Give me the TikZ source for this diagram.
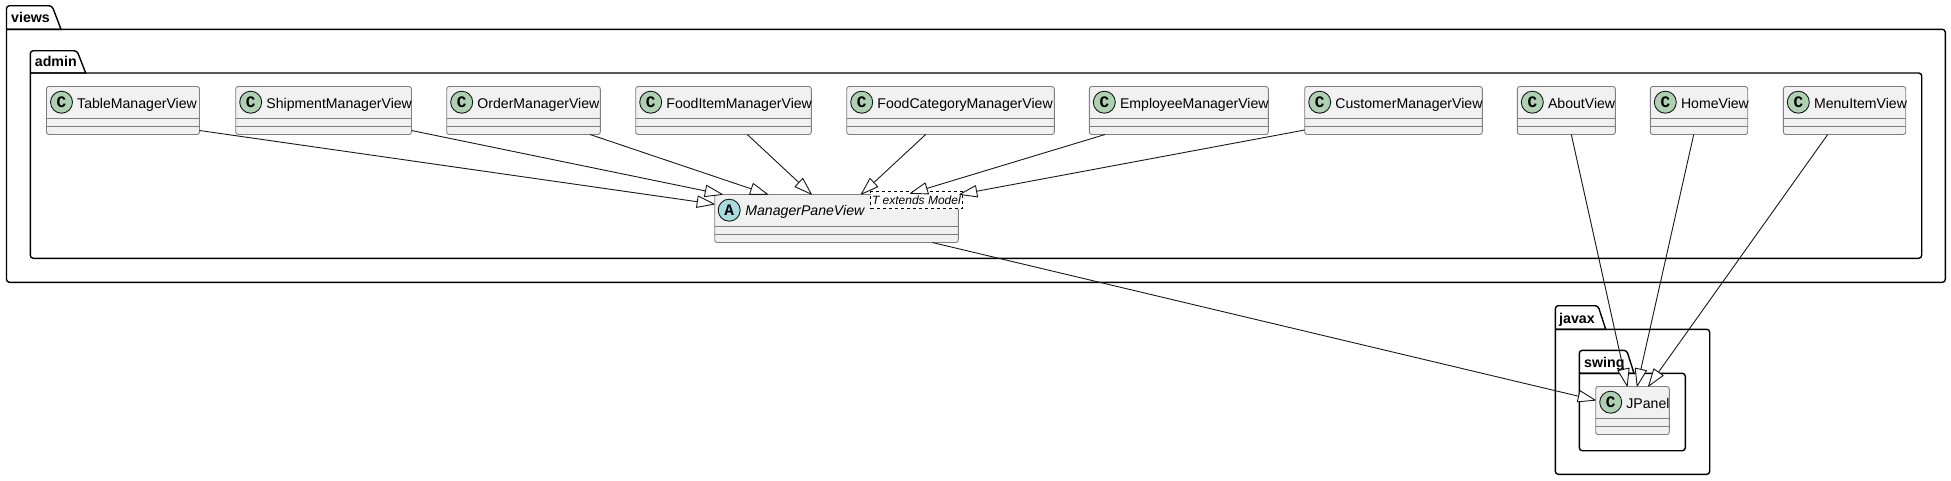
\documentclass[tikz,border=0pt]{standalone}
\usepackage{fontspec}
\setmainfont{Liberation Sans}
\setmonofont{Liberation Mono}
\usetikzlibrary{arrows.meta}

\definecolor{boxfill}{HTML}{F1F1F1}
\definecolor{boxline}{HTML}{7F7F7F}
\definecolor{classgreen}{HTML}{ADD1B2}
\definecolor{abstractblue}{HTML}{A9DCDF}
\definecolor{edgeline}{HTML}{181818}

\tikzset{
	classbox/.style={draw=boxline, fill=boxfill, line width=0.9pt, rounded corners=2.5pt, minimum height=48pt, inner sep=0pt, outer sep=0pt, anchor=north west},
	classicon/.style={circle, draw=edgeline, line width=0.9pt, minimum size=22pt, inner sep=0pt, font=\ttfamily\bfseries\fontsize{16}{16}\selectfont},
	classlabel/.style={anchor=base west, inner sep=0pt, font=\fontsize{14.1}{16}\selectfont},
	classline/.style={draw=boxline, line width=0.9pt},
	pkgline/.style={draw=black, line width=1.4pt},
	pkgtitle/.style={anchor=base west, inner sep=0pt, font=\bfseries\fontsize{14.2}{16}\selectfont},
	extends/.style={color=edgeline, line width=0.9pt, -{Triangle[fill=white, length=19pt, width=12.5pt, round=false]}}
}

% name, left, top, tab end, tab foot, tab line, right, bottom
\newcommand{\packagebox}[8]{
	\draw[pkgline] (#2,#5) [rounded corners=3pt] -- (#2,#3) -- (#4,#3) [sharp corners] -- (#6,#5) -- (#2,#5);
	\draw[pkgline] (#2,#5) [rounded corners=3pt] -- (#7,#5) -- (#7,#8) -- (#2,#8) -- (#2,#5);
}

% name, left, top, width, label
\newcommand{\classnode}[5]{
	\node[classbox, minimum width=#4pt] (#1) at (#2,#3) {};
	\draw[classline] ([yshift=-32pt]#1.north west) -- ([yshift=-32pt]#1.north east);
	\draw[classline] ([yshift=-40pt]#1.north west) -- ([yshift=-40pt]#1.north east);
	\node[classicon, fill=classgreen] (#1icon) at ([xshift=15pt,yshift=-15.7pt]#1.north west) {C};
	\node[classlabel] (#1label) at ([xshift=30.5pt,yshift=-21.8pt]#1.north west) {#5};
}

\begin{document}
\begin{tikzpicture}[x=1pt,y=-1pt]
	\useasboundingbox (0,0) rectangle (1951,480);

	% Packages
	\packagebox{views}{6.5}{5.7}{52}{29.3}{61}{1945.3}{282.3}
	\node[pkgtitle] (views) at (11,22.7) {views};
	\packagebox{admin}{30.3}{50.7}{77}{73}{85.7}{1921.7}{258.3}
	\node[pkgtitle] (admin) at (34.7,66.7) {admin};
	\packagebox{javax}{1555.3}{305.7}{1598}{329.3}{1605.7}{1709.7}{474.3}
	\node[pkgtitle] (javax) at (1559,323) {javax};
	\packagebox{swing}{1579.3}{350.3}{1626.7}{373.3}{1634}{1685.3}{450.7}
	\node[pkgtitle] (swing) at (1584,367) {swing};

	% Classes
	\classnode{tableview}{46.5}{86.5}{153}{TableManagerView}
	\classnode{shipmentview}{235.7}{86.5}{175.8}{ShipmentManagerView}
	\classnode{orderview}{446.7}{86.5}{153.6}{OrderManagerView}
	\classnode{fooditemview}{635.7}{86.5}{175.6}{FoodItemManagerView}
	\classnode{foodcategoryview}{846.7}{86.5}{207.6}{FoodCategoryManagerView}
	\classnode{employeeview}{1089.3}{86.5}{179}{EmployeeManagerView}
	\classnode{customerview}{1304.7}{86.5}{177.6}{CustomerManagerView}
	\classnode{aboutview}{1517.3}{86.5}{98}{AboutView}
	\classnode{homeview}{1650.3}{86.5}{97.4}{HomeView}
	\classnode{menuitemview}{1783.3}{86.5}{122.4}{MenuItemView}
	\classnode{jpanel}{1595.7}{386.5}{73.6}{JPanel}

	% Abstract class with its template
	\node[classbox, minimum width=243.6pt] (paneview) at (714.7,194.5) {};
	\draw[classline] ([yshift=-32pt]paneview.north west) -- ([yshift=-32pt]paneview.north east);
	\draw[classline] ([yshift=-40pt]paneview.north west) -- ([yshift=-40pt]paneview.north east);
	\node[classicon, fill=abstractblue] (paneviewicon) at ([xshift=14.5pt,yshift=-15.7pt]paneview.north west) {A};
	\node[classlabel, font=\itshape\fontsize{14.1}{16}\selectfont] (paneviewlabel) at ([xshift=30.5pt,yshift=-21.3pt]paneview.north west) {ManagerPaneView};
	\node[draw=black, dashed, line width=0.8pt, fill=white, anchor=north west, minimum width=91.4pt, minimum height=17pt, inner sep=0pt, font=\itshape\fontsize{12}{14}\selectfont] (paneviewtype) at (870.3,191.3) {T extends Model};

	% Define all the edges
	\path[extends] ([yshift=4pt]tableview.south east) edge ([yshift=-9.7pt]paneview.north west);
	\path[extends] ([yshift=4pt]shipmentview.south east) edge ([xshift=8pt]paneview.north west);
	\path[extends] ([xshift=143.3pt]orderview.south west) edge ([xshift=53.3pt]paneview.north west);
	\path[extends] ([xshift=111.6pt]fooditemview.south west) edge ([xshift=97pt]paneview.north west);
	\path[extends] ([xshift=79pt]foodcategoryview.south west) edge ([xshift=146.3pt]paneview.north west);
	\path[extends] ([xshift=15.7pt]employeeview.south west) edge ([xshift=195.3pt,yshift=1pt]paneview.north west);
	\path[extends] ([yshift=4.5pt]customerview.south west) edge ([xshift=1pt]paneview.north east);
	\path[extends] ([xshift=217.6pt]paneview.south west) edge ([yshift=-13.8pt]jpanel.north west);
	\path[extends] ([xshift=54pt]aboutview.south west) edge ([xshift=31.6pt]jpanel.north west);
	\path[extends] ([xshift=43.4pt]homeview.south west) edge ([xshift=41.3pt]jpanel.north west);
	\path[extends] ([xshift=44.4pt]menuitemview.south west) edge ([xshift=52.6pt]jpanel.north west);
\end{tikzpicture}
\end{document}
